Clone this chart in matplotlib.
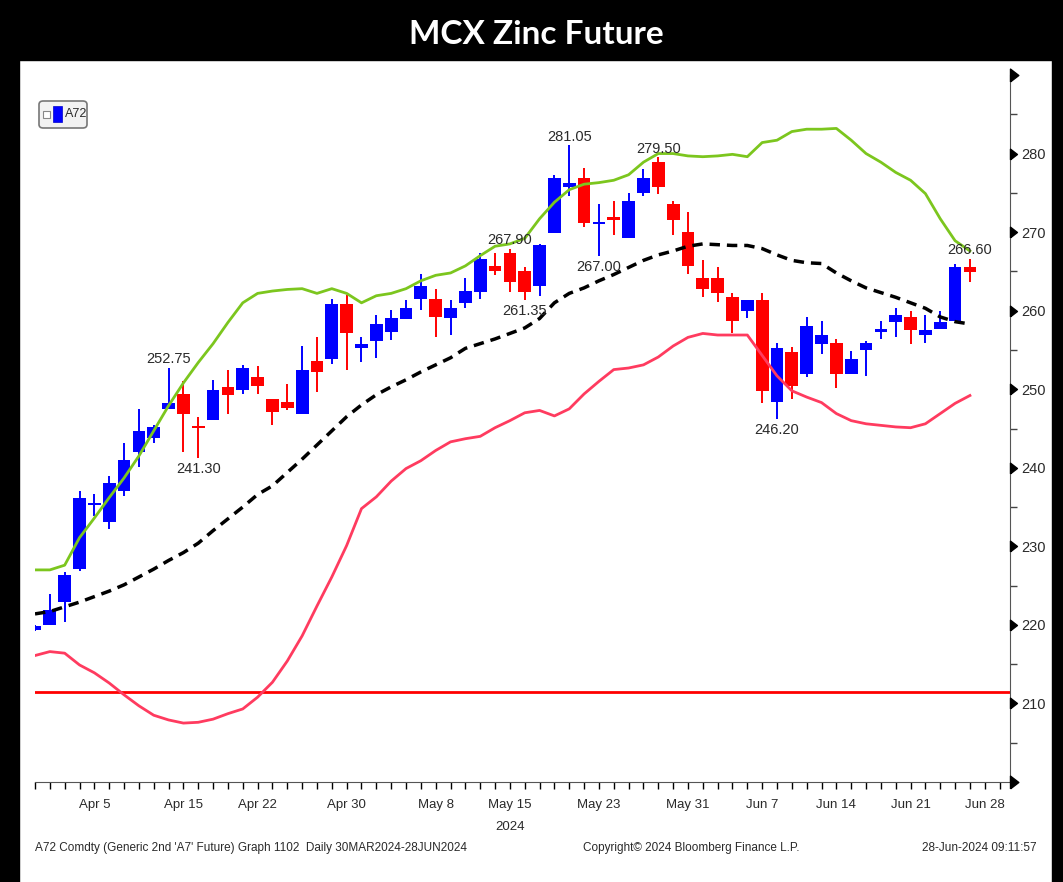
import numpy as np
import pandas as pd
import matplotlib
matplotlib.use("Agg")
import matplotlib.pyplot as plt
from matplotlib.patches import Rectangle, FancyBboxPatch

# trading days on the axis (last one, Jun 28, has no candle yet)
axis_days = pd.bdate_range("2024-04-01", "2024-06-28")

opens = [219.4, 220.0, 222.9, 227.1, 235.2, 233.1, 237.1, 242.0, 243.8, 247.5,
         249.4, 245.2, 246.1, 250.3, 249.9, 251.6, 248.7, 248.4, 246.8, 253.6,
         253.9, 260.9, 255.3, 256.2, 257.3, 259.0, 261.5, 261.5, 259.1, 261.0,
         262.4, 265.7, 267.3, 265.1, 263.2, 269.9, 275.8, 276.9, 271.0, 271.8,
         269.2, 275.0, 278.9, 273.6, 270.0, 264.1, 264.2, 261.7, 259.9, 261.4,
         248.4, 254.8, 252.0, 255.8, 255.9, 252.0, 255.0, 257.3, 258.5, 259.2,
         256.9, 257.7, 258.7, 265.5]
highs = [220.0, 223.9, 226.7, 237.0, 236.7, 239.0, 243.2, 247.5, 245.4, 252.75,
         251.1, 246.5, 251.2, 252.5, 253.1, 252.9, 248.8, 250.7, 255.5, 256.6,
         261.5, 262.0, 256.6, 259.5, 260.1, 261.3, 264.7, 262.8, 261.4, 264.1,
         267.3, 267.3, 267.9, 265.5, 268.5, 277.3, 281.05, 278.2, 273.6, 274.0,
         275.0, 278.0, 279.5, 274.0, 272.6, 266.5, 265.6, 262.3, 261.4, 262.2,
         255.9, 255.4, 259.2, 258.7, 256.4, 254.9, 256.2, 258.7, 260.3, 259.9,
         259.5, 259.9, 266.0, 266.6]
lows = [219.2, 220.0, 220.4, 226.9, 233.8, 232.2, 236.4, 240.1, 243.1, 247.5,
        242.0, 241.3, 246.1, 246.9, 249.4, 249.4, 245.4, 247.4, 246.8, 249.6,
        253.2, 252.4, 253.5, 254.0, 256.3, 259.0, 260.1, 256.6, 256.9, 260.4,
        261.5, 264.5, 262.4, 261.35, 261.9, 269.9, 274.6, 270.6, 267.0, 269.6,
        269.2, 274.6, 274.8, 269.6, 264.7, 261.8, 261.1, 257.2, 259.1, 248.2,
        246.2, 248.8, 251.5, 254.5, 250.1, 252.0, 251.7, 256.4, 256.6, 255.7,
        255.9, 257.7, 258.7, 263.6]
closes = [219.9, 221.9, 226.4, 236.2, 235.5, 238.1, 241.0, 244.7, 245.2, 248.2,
          246.9, 245.0, 249.9, 249.3, 252.7, 250.4, 247.1, 247.6, 252.5, 252.2,
          260.9, 257.2, 255.8, 258.3, 259.1, 260.4, 263.2, 259.2, 260.3, 262.5,
          266.6, 265.0, 263.6, 262.4, 268.3, 276.9, 276.2, 271.1, 271.3, 271.6,
          274.0, 276.9, 275.8, 271.5, 265.7, 262.8, 262.2, 258.7, 261.4, 249.8,
          255.2, 250.4, 258.0, 256.9, 252.0, 253.9, 255.9, 257.7, 259.5, 257.6,
          257.6, 258.5, 265.5, 264.9]

upper_band = [227.0, 227.0, 227.6, 231.1, 233.6, 236.2, 238.7, 241.5, 244.7, 247.9,
              250.8, 253.4, 255.8, 258.5, 261.0, 262.2, 262.5, 262.7, 262.8, 262.2,
              262.8, 262.2, 261.0, 261.9, 262.2, 262.8, 263.8, 264.5, 264.8, 265.7,
              267.0, 268.2, 268.5, 269.2, 271.7, 273.8, 275.4, 276.1, 276.3, 276.6,
              277.3, 278.9, 280.0, 280.0, 279.7, 279.6, 279.7, 279.9, 279.6, 281.4,
              281.7, 282.8, 283.1, 283.1, 283.2, 281.7, 280.0, 278.9, 277.6, 276.6,
              274.9, 271.7, 268.9, 267.6]
middle_band = [221.4, 221.7, 222.3, 222.9, 223.6, 224.3, 225.1, 226.1, 227.1, 228.2,
               229.2, 230.4, 232.0, 233.5, 235.0, 236.6, 237.7, 239.4, 241.1, 242.9,
               244.7, 246.5, 248.0, 249.3, 250.3, 251.2, 252.2, 253.1, 254.0, 255.2,
               255.8, 256.4, 257.1, 257.8, 259.0, 261.0, 262.2, 262.9, 263.8, 264.6,
               265.5, 266.4, 267.1, 267.6, 268.2, 268.5, 268.4, 268.3, 268.3, 267.9,
               267.1, 266.4, 266.1, 266.0, 264.8, 263.8, 262.9, 262.3, 261.7, 261.0,
               260.3, 259.2, 258.6, 258.3]
lower_band = [216.1, 216.6, 216.4, 214.9, 213.9, 212.6, 211.1, 209.7, 208.5, 207.9,
              207.5, 207.6, 208.0, 208.7, 209.3, 210.8, 212.7, 215.4, 218.6, 222.4,
              226.1, 230.1, 234.8, 236.3, 238.3, 239.9, 240.9, 242.2, 243.3, 243.7,
              244.0, 245.1, 246.0, 247.0, 247.3, 246.6, 247.5, 249.4, 251.0, 252.5,
              252.7, 253.1, 254.1, 255.5, 256.6, 257.1, 256.9, 256.9, 256.9, 254.3,
              251.7, 249.8, 249.0, 248.3, 246.9, 246.0, 245.6, 245.4, 245.2, 245.1,
              245.6, 246.9, 248.2, 249.2]
support_level = 211.4

tick_days = ["2024-04-05", "2024-04-15", "2024-04-22", "2024-04-30", "2024-05-08",
             "2024-05-15", "2024-05-23", "2024-05-31", "2024-06-07", "2024-06-14",
             "2024-06-21", "2024-06-28"]
tick_labels = ["Apr 5", "Apr 15", "Apr 22", "Apr 30", "May 8", "May 15", "May 23",
               "May 31", "Jun 7", "Jun 14", "Jun 21", "Jun 28"]

# (candle index, price text, above/below)
price_notes = [(9, "252.75", "high"), (11, "241.30", "low"), (32, "267.90", "high"),
               (33, "261.35", "low"), (36, "281.05", "high"), (38, "267.00", "low"),
               (42, "279.50", "high"), (50, "246.20", "low"), (63, "266.60", "high")]

plt.rcParams["font.family"] = ["Liberation Sans", "DejaVu Sans"]
txt_col = "#2a2a2a"

W, H = 1063, 882
fig = plt.figure(figsize=(W / 100, H / 100), dpi=100)
fig.patch.set_facecolor("white")

# black frame and title bar
fig.add_artist(Rectangle((0, 0), 19 / W, 1, transform=fig.transFigure, color="black", zorder=0))
fig.add_artist(Rectangle((1052 / W, 0), 11 / W, 1, transform=fig.transFigure, color="black", zorder=0))
fig.add_artist(Rectangle((0, 1 - 60 / H), 1, 60 / H, transform=fig.transFigure, color="black", zorder=0))
fig.text(536 / W, 1 - 34 / H, "MCX Zinc Future", color="white", fontsize=24, fontweight="bold",
         family=["Lato", "DejaVu Sans"], ha="center", va="center")

ax = fig.add_axes([35 / W, 1 - 782 / H, (1010 - 35) / W, (782 - 75) / H])
ax.set_facecolor("white")

x = np.arange(len(opens))
o = np.array(opens)
c = np.array(closes)
cols = np.where(c >= o, "#0000ff", "#ff0000")

ax.vlines(x, lows, highs, colors=cols, lw=1.4, zorder=3)
ax.bar(x, np.maximum(np.abs(c - o), 0.35), bottom=np.minimum(o, c), width=0.86,
       color=cols, zorder=4)

ax.plot(x, upper_band, color="#7cc61e", lw=2, zorder=5)
ax.plot(x, middle_band, color="black", lw=2.5, dashes=(3, 2), zorder=5)
ax.plot(x, lower_band, color="#ff3b5f", lw=2, zorder=5)
ax.axhline(support_level, color="#ff0000", lw=2, zorder=2)

for i, txt, side in price_notes:
    if side == "high":
        ax.annotate(txt, (x[i], highs[i]), xytext=(0, 1), textcoords="offset points",
                    ha="center", va="bottom", fontsize=10.5, color=txt_col, zorder=6)
    else:
        ax.annotate(txt, (x[i], lows[i]), xytext=(0, -3), textcoords="offset points",
                    ha="center", va="top", fontsize=10.5, color=txt_col, zorder=6)

ax.set_xlim(0, 65.7)
ax.set_ylim(200, 290)

# x axis: one small tick per trading day, labels on selected dates
day_index = {d.strftime("%Y-%m-%d"): k for k, d in enumerate(axis_days)}
ax.set_xticks(np.arange(0, len(axis_days) + 1), minor=True)
ax.set_xticks([day_index[d] for d in tick_days])
ax.set_xticklabels(tick_labels, fontsize=9.5, color=txt_col)
ax.tick_params(axis="x", which="both", direction="out", length=5, width=1, color="black", pad=7)
ax.text(day_index["2024-05-15"], -0.055, "2024", transform=ax.get_xaxis_transform(),
        ha="center", va="top", fontsize=9.5, color=txt_col)

# y axis on the right with triangle markers
ax.yaxis.tick_right()
ax.set_yticks(np.arange(210, 290, 10))
ax.set_yticks(np.arange(205, 290, 10), minor=True)
ax.tick_params(axis="y", which="major", length=0, pad=8, labelsize=10.5, labelcolor=txt_col)
ax.tick_params(axis="y", which="minor", length=5, width=1, direction="out", color="#444444")
tri = [(0, -1), (1.3, 0), (0, 1), (0, -1)]
ax.plot(np.ones(8), np.arange(210, 290, 10), ls="none", marker=tri, ms=10, color="black",
        transform=ax.get_yaxis_transform(), clip_on=False, zorder=7)
ax.plot([1, 1], [200, 290], ls="none", marker=tri, ms=12, color="black",
        transform=ax.get_yaxis_transform(), clip_on=False, zorder=7)

for s in ["top", "left"]:
    ax.spines[s].set_visible(False)
ax.spines["right"].set_color("#555555")
ax.spines["bottom"].set_color("#555555")

# legend box
fig.add_artist(FancyBboxPatch((39 / W, 1 - 128 / H), 48 / W, 27 / H, transform=fig.transFigure,
                              boxstyle="round,pad=0,rounding_size=0.004", fc="#f2f2f2", ec="#777777", lw=1.2))
fig.add_artist(Rectangle((43 / W, 1 - 118 / H), 7 / W, 7 / H, transform=fig.transFigure,
                         fc="white", ec="#888888", lw=0.8))
fig.add_artist(Rectangle((53 / W, 1 - 122 / H), 9 / W, 16 / H, transform=fig.transFigure,
                         fc="#0000ff", ec="#0000cc", lw=0.5))
fig.text(65 / W, 1 - 114 / H, "A72", fontsize=9, color=txt_col, va="center")

# footer
fig.text(35 / W, 1 - 848 / H, "A72 Comdty (Generic 2nd 'A7' Future) Graph 1102  Daily 30MAR2024-28JUN2024",
         fontsize=8.5, color=txt_col, va="center")
fig.text(583 / W, 1 - 848 / H, "Copyright\u00a9 2024 Bloomberg Finance L.P.", fontsize=8.5,
         color=txt_col, va="center")
fig.text(1037 / W, 1 - 848 / H, "28-Jun-2024 09:11:57", fontsize=8.5, color=txt_col,
         va="center", ha="right")

fig.savefig("out.png", dpi=100)
